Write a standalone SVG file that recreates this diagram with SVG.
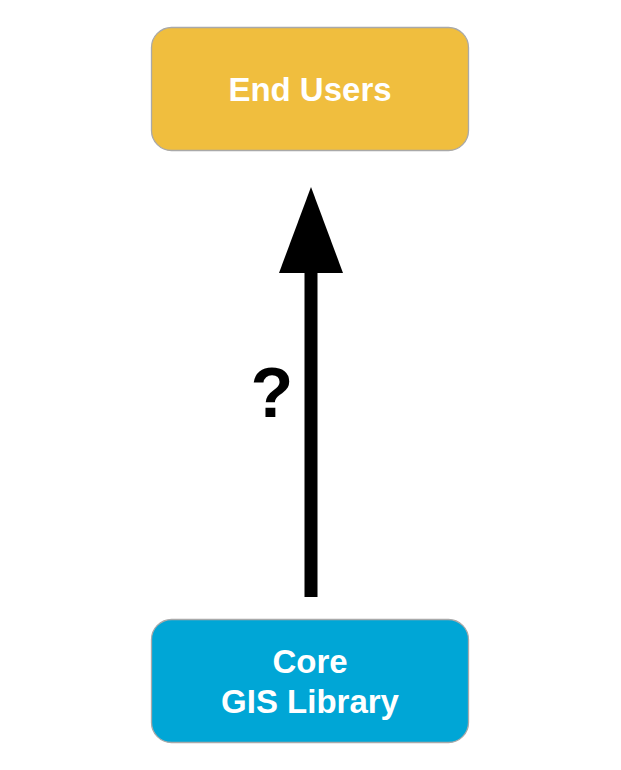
<svg xmlns="http://www.w3.org/2000/svg" width="621" height="770" viewBox="0 0 621 770">
<style>
.box{stroke:#A9A9A9;stroke-width:1.3}
.lbl{font-family:"Liberation Sans",Arial,sans-serif;font-weight:bold;font-size:33px;fill:#FFFFFF;text-anchor:middle}
</style>
<rect width="621" height="770" fill="#FFFFFF"/>
<g id="end-users">
<rect class="box" x="151.5" y="27.5" width="317" height="123" rx="20" fill="#F0BE3E"/>
<text class="lbl" x="310" y="101">End Users</text>
</g>
<g id="core-gis-library">
<rect class="box" x="151.5" y="619.5" width="317" height="123" rx="20" fill="#00A6D6"/>
<text class="lbl" x="310" y="673">Core</text>
<text class="lbl" x="310" y="713">GIS Library</text>
</g>
<g id="connectors">
<line x1="311" y1="597" x2="311" y2="270" stroke="#000000" stroke-width="13"/>
<polygon points="311,187 343,273 279,273" fill="#000000"/>
<text x="272" y="417" font-family="Liberation Sans,Arial,sans-serif" font-weight="bold" font-size="70" fill="#000000" text-anchor="middle">?</text>
</g>
</svg>
